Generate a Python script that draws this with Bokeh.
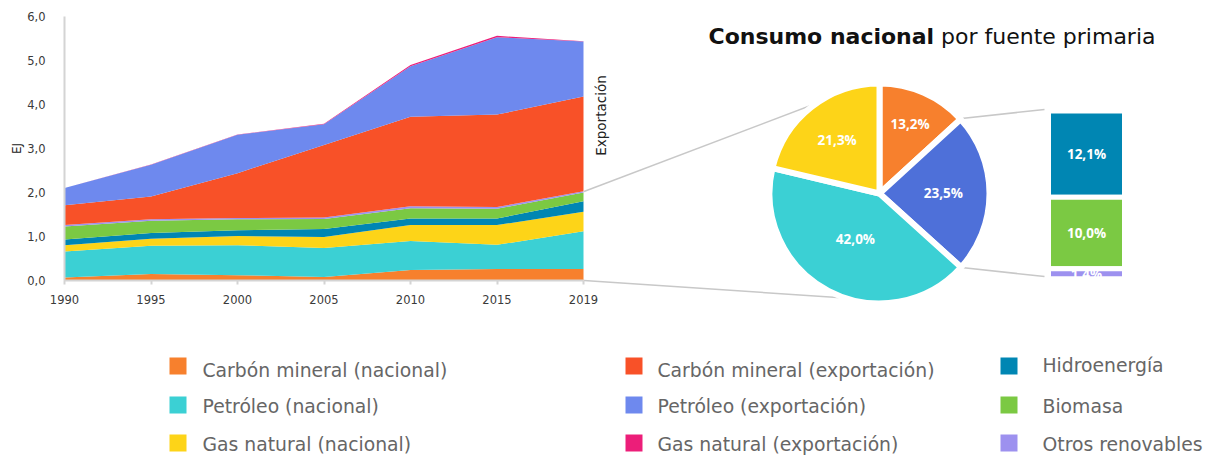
import math
from bokeh.plotting import figure
from bokeh.models import ColumnDataSource, Range1d, FixedTicker, LinearAxis
from bokeh.core.properties import value
from bokeh.embed import file_html
from bokeh.resources import INLINE

# ---------------- data ----------------
years = ["1990", "1995", "2000", "2005", "2010", "2015", "2019"]
carbon_nac = [0.07, 0.15, 0.12, 0.08, 0.24, 0.26, 0.26]
petroleo_nac = [0.59, 0.64, 0.68, 0.66, 0.66, 0.55, 0.86]
gas_nac = [0.14, 0.16, 0.21, 0.25, 0.36, 0.45, 0.44]
hidro = [0.13, 0.13, 0.13, 0.18, 0.15, 0.15, 0.24]
biomasa = [0.30, 0.28, 0.25, 0.23, 0.23, 0.22, 0.20]
otros_ren = [0.03, 0.03, 0.03, 0.03, 0.05, 0.04, 0.03]
carbon_exp = [0.45, 0.52, 1.02, 1.65, 2.03, 2.10, 2.15]
petroleo_exp = [0.39, 0.72, 0.87, 0.47, 1.15, 1.76, 1.25]
gas_exp = [0.005, 0.005, 0.01, 0.01, 0.03, 0.03, 0.005]

y_ticks = [0, 1, 2, 3, 4, 5, 6]
y_tick_labels = ["0,0", "1,0", "2,0", "3,0", "4,0", "5,0", "6,0"]

series_names = ["Carbón mineral (nacional)", "Petróleo (nacional)", "Gas natural (nacional)",
                "Hidroenergía", "Biomasa", "Otros renovables",
                "Carbón mineral (exportación)", "Petróleo (exportación)", "Gas natural (exportación)"]
series_values = [carbon_nac, petroleo_nac, gas_nac, hidro, biomasa, otros_ren,
                 carbon_exp, petroleo_exp, gas_exp]
series_colors = ["#F7802D", "#3BD0D4", "#FDD418", "#0086B3", "#7BC943", "#9D91EF",
                 "#F85128", "#6E89EE", "#EC1E79"]
legend_order = [0, 1, 2, 6, 7, 8, 3, 4, 5]

pie_labels = ["Carbón mineral", "Renovables", "Petróleo", "Gas natural"]
pie_shares = [13.2, 23.5, 42.0, 21.3]
pie_colors = ["#F7802D", "#4E70D9", "#3BD0D4", "#FDD418"]

ren_labels = ["Hidroenergía", "Biomasa", "Otros renovables"]
ren_shares = [12.1, 10.0, 1.4]
ren_colors = ["#0086B3", "#7BC943", "#9D91EF"]

title_bold = "Consumo nacional"
title_rest = "por fuente primaria"
export_label = "Exportación"

FONT = "DejaVu Sans"
FONT_B = "Open Sans"

# ---------------- canvas geometry (screen px) ----------------
LEFT, RIGHT, TOP, BOTTOM = 1, 1206, 1, 456
x0_px, x6_px = 65, 584      # screen columns of first / last year
y0_px, y6_px = 281, 17      # screen rows of 0 EJ / 6 EJ
n = len(years) - 1
ppx = (x6_px - x0_px) / n
ppy = (y0_px - y6_px) / 6.0
xr = Range1d(-(x0_px - LEFT) / ppx, n + (RIGHT - x6_px) / ppx)
yr = Range1d(-(BOTTOM - y0_px) / ppy, 6 + (y6_px - TOP) / ppy)

p = figure(width=RIGHT - LEFT, height=BOTTOM - TOP, x_range=xr, y_range=yr,
           output_backend="svg", toolbar_location=None, x_axis_type=None, y_axis_type=None,
           min_border=0)
p.xgrid.visible = False
p.ygrid.visible = False
p.outline_line_color = None
p.extra_x_ranges = {"sx": Range1d(LEFT, RIGHT)}
p.extra_y_ranges = {"sy": Range1d(-BOTTOM, -TOP)}

# ---------------- area chart ----------------
keys = ["s%d" % i for i in range(len(series_values))]
data = {"x": list(range(len(years)))}
for kk, v in zip(keys, series_values):
    data[kk] = v
src = ColumnDataSource(data)
p.varea_stack(stackers=keys, x="x", color=series_colors, source=src)

xaxis = LinearAxis(fixed_location=0, bounds=(0, n))
yaxis = LinearAxis(fixed_location=0, bounds=(0, 6))
p.add_layout(xaxis, "below")
p.add_layout(yaxis, "left")
xaxis.ticker = FixedTicker(ticks=list(range(len(years))))
xaxis.major_label_overrides = {i: y for i, y in enumerate(years)}
yaxis.ticker = FixedTicker(ticks=y_ticks)
yaxis.major_label_overrides = {t: l for t, l in zip(y_ticks, y_tick_labels)}
for ax in (xaxis, yaxis):
    ax.axis_line_color = "#D4D4D4"
    ax.axis_line_width = 2
    ax.minor_tick_line_color = None
    ax.major_label_text_font = FONT
    ax.major_label_text_font_size = "11.5px"
    ax.major_label_text_color = "#3A3A3A"
xaxis.major_tick_line_color = "#D4D4D4"
xaxis.major_tick_line_width = 2
xaxis.major_tick_in = 0
xaxis.major_tick_out = 4
xaxis.major_label_standoff = 10
yaxis.major_tick_line_color = None
yaxis.major_label_standoff = 13
yaxis.axis_label = "EJ"
yaxis.axis_label_text_font = FONT
yaxis.axis_label_text_font_style = "normal"
yaxis.axis_label_text_font_size = "12px"
yaxis.axis_label_text_color = "#222222"
yaxis.axis_label_standoff = 0

S = dict(x_range_name="sx", y_range_name="sy")

# ---------------- connectors ----------------
p.segment(x0=[584.5, 584.5, 962, 962], y0=[-192, -281, -119, -268],
          x1=[848, 868, 1045, 1045], y1=[-92, -300, -110, -277],
          line_color="#C8C8C8", line_width=1.5, **S)

# ---------------- pie ----------------
cx, cy, r = 880, -194, 110
tot = sum(pie_shares)
starts, ends, mids = [], [], []
cum = 0.0
for s in pie_shares:
    a0 = math.pi / 2 - 2 * math.pi * cum / tot
    cum += s
    a1 = math.pi / 2 - 2 * math.pi * cum / tot
    starts.append(a0)
    ends.append(a1)
    mids.append((a0 + a1) / 2)
p.wedge(x=cx, y=cy, radius=r, start_angle=starts, end_angle=ends, direction="clock",
        fill_color=pie_colors, line_color="white", line_width=6, **S)
lab_r = [0.69, 0.58, 0.47, 0.62]
p.text(x=[cx + r * f * math.cos(m) for f, m in zip(lab_r, mids)],
       y=[cy + r * f * math.sin(m) for f, m in zip(lab_r, mids)],
       text=[("%.1f%%" % s).replace(".", ",") for s in pie_shares],
       text_font=value(FONT_B), text_font_style="bold", text_font_size="13.5px",
       text_color="white", text_align="center", text_baseline="middle", **S)

# ---------------- stacked bar of renewables (percent scale) ----------------
top_px, bot_px = 111.5, 279.2   # screen rows of 23.5 % and 0 %
ren_total = sum(ren_shares)
kp = ren_total / (bot_px - top_px)
p.extra_y_ranges["pct"] = Range1d(-(BOTTOM - bot_px) * kp, (bot_px - TOP) * kp)
bottoms, tops = [], []
acc = 0.0
for s in reversed(ren_shares):
    bottoms.append(acc)
    acc += s
    tops.append(acc)
bottoms = bottoms[::-1]
tops = tops[::-1]
p.vbar(x=1087, width=76, bottom=bottoms, top=tops, x_range_name="sx", y_range_name="pct",
       fill_color=ren_colors, line_color="white", line_width=5)
p.text(x=1087, y=[(b + t) / 2 for b, t in zip(bottoms, tops)], x_range_name="sx", y_range_name="pct",
       text=[("%.1f%%" % s).replace(".", ",") for s in ren_shares],
       text_font=value(FONT_B), text_font_style="bold", text_font_size="13.5px",
       text_color="white", text_align="center", text_baseline="middle")

# ---------------- titles ----------------
p.text(x=[709], y=[-37], text=[title_bold], text_font=value(FONT), text_font_style="bold",
       text_font_size="22px", text_color="#111111", text_align="left", text_baseline="middle", **S)
p.text(x=[1156], y=[-37], text=[title_rest], text_font=value(FONT),
       text_font_size="22px", text_color="#111111", text_align="right", text_baseline="middle", **S)
p.text(x=[601], y=[-116], text=[export_label], angle=math.pi / 2, text_font=value(FONT),
       text_font_size="13.5px", text_color="#222222", text_align="center", text_baseline="middle", **S)

# ---------------- legend ----------------
col_sq_x = [178.5, 634.5, 1009.5]
col_tx_x = [203, 658, 1043]
row_sq_y = [366.5, 405.5, 443.5]
text_y = [[370.5, 407, 445], [370.5, 407, 445], [366, 407, 445]]
lx, ly, tx, ty, lc, lt = [], [], [], [], [], []
for pos, i in enumerate(legend_order):
    c, rr = divmod(pos, 3)
    lx.append(col_sq_x[c]); ly.append(-row_sq_y[rr])
    tx.append(col_tx_x[c]); ty.append(-text_y[c][rr])
    lc.append(series_colors[i]); lt.append(series_names[i])
p.rect(x=lx, y=ly, width=17, height=17, fill_color=lc, line_color=None, **S)
p.text(x=tx, y=ty, text=lt, text_font=value(FONT), text_font_size="18.8px",
       text_color="#666666", text_align="left", text_baseline="middle", **S)

open("out.html", "w").write(file_html(p, INLINE))
